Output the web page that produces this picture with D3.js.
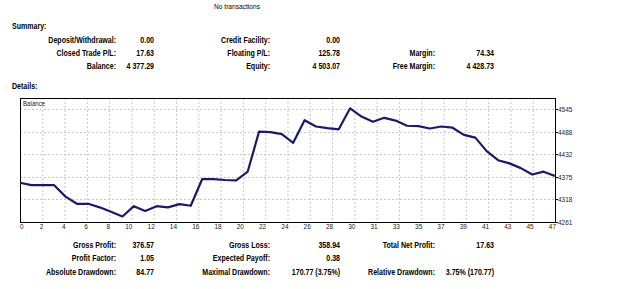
<!DOCTYPE html>
<html>
<head>
<meta charset="utf-8">
<script src="https://cdn.jsdelivr.net/npm/d3@7"></script>
<style>
  html, body { margin: 0; padding: 0; background: #ffffff; }
  svg { display: block; }
</style>
</head>
<body>
<svg id="chart" width="625" height="289"></svg>
<script>
// ---------- data ----------
const tradeIndex = d3.range(0, 48);
const balance = [
  4360, 4354, 4354, 4354, 4325, 4307, 4307, 4298, 4287, 4275,
  4301, 4289, 4301, 4298, 4306, 4302, 4369, 4369, 4367, 4366,
  4388, 4489, 4488, 4483, 4461, 4518, 4502, 4498, 4495, 4548,
  4527, 4514, 4524, 4517, 4504, 4503, 4497, 4502, 4499, 4481,
  4474, 4440, 4417, 4409, 4397, 4381, 4388, 4377
];
const xTickLabels = ["0","2","4","6","8","10","12","14","16","18","20","22","24","26","28","30","31","33","35","37","39","41","43","45","47"];
const yTickValues = [4261, 4318, 4375, 4432, 4488, 4545];
const yDomain = [4261, 4574];

const headerText = "No transactions";
const summaryTitle = "Summary:";
const detailsTitle = "Details:";
const summaryLabels = [
  ["Deposit/Withdrawal:", "Credit Facility:", ""],
  ["Closed Trade P/L:", "Floating P/L:", "Margin:"],
  ["Balance:", "Equity:", "Free Margin:"]
];
const summaryValues = [
  ["0.00", "0.00", ""],
  ["17.63", "125.78", "74.34"],
  ["4 377.29", "4 503.07", "4 428.73"]
];
const detailLabels = [
  ["Gross Profit:", "Gross Loss:", "Total Net Profit:"],
  ["Profit Factor:", "Expected Payoff:", ""],
  ["Absolute Drawdown:", "Maximal Drawdown:", "Relative Drawdown:"]
];
const detailValues = [
  ["376.57", "358.94", "17.63"],
  ["1.05", "0.38", ""],
  ["84.77", "170.77 (3.75%)", "3.75% (170.77)"]
];

// ---------- layout ----------
const svg = d3.select("#chart");
const FONT = "'Liberation Sans', Arial, sans-serif";
const SX = 0.83;          // horizontal compression of text
const plot = { left: 20, right: 555, top: 98, bottom: 222 };
const labelRight = [116, 270, 435];
const valueRight = [154, 340, 494];
const summaryBase = [42.8, 55.8, 68.6];
const detailBase = [248.2, 261.4, 274.6];

function txt(g, x, y, s, opts) {
  const o = Object.assign({ size: 8.5, weight: "bold", anchor: "end", sx: SX, color: "#000" }, opts || {});
  g.append("text")
    .attr("transform", `translate(${x},${y}) scale(${o.sx},1)`)
    .attr("text-anchor", o.anchor)
    .attr("font-family", FONT)
    .attr("font-size", o.size)
    .attr("font-weight", o.weight)
    .attr("fill", o.color)
    .text(s);
}

const tg = svg.append("g");
txt(tg, 237, 8.5, headerText, { size: 7.8, anchor: "middle", weight: "normal", sx: 0.85 });
txt(tg, 12, 28.5, summaryTitle, { anchor: "start" });
txt(tg, 12, 89, detailsTitle, { anchor: "start" });

summaryLabels.forEach((row, r) => row.forEach((s, c) => {
  if (s) txt(tg, labelRight[c], summaryBase[r], s);
  if (summaryValues[r][c]) txt(tg, valueRight[c], summaryBase[r], summaryValues[r][c]);
}));
detailLabels.forEach((row, r) => row.forEach((s, c) => {
  if (s) txt(tg, labelRight[c], detailBase[r], s);
  if (detailValues[r][c]) txt(tg, valueRight[c], detailBase[r], detailValues[r][c]);
}));

// ---------- chart ----------
const x = d3.scaleLinear().domain([0, tradeIndex.length - 1]).range([plot.left, plot.right]);
const xSlot = d3.scalePoint().domain(xTickLabels).range([plot.left, plot.right]);
const y = d3.scaleLinear().domain(yDomain).range([plot.bottom, plot.top]);

const cg = svg.append("g");
// grid
cg.selectAll("line.vg").data(xTickLabels.slice(1, -1)).join("line")
  .attr("x1", d => xSlot(d) + 0.5).attr("x2", d => xSlot(d) + 0.5)
  .attr("y1", plot.top).attr("y2", plot.bottom)
  .attr("stroke", "#c8c8c8").attr("stroke-dasharray", "2,2").attr("stroke-width", 1);
cg.selectAll("line.hg").data(yTickValues.slice(1)).join("line")
  .attr("y1", d => Math.round(y(d)) + 0.5).attr("y2", d => Math.round(y(d)) + 0.5)
  .attr("x1", plot.left).attr("x2", plot.right)
  .attr("stroke", "#c8c8c8").attr("stroke-dasharray", "2,2").attr("stroke-width", 1);

// frame
cg.append("rect")
  .attr("x", plot.left + 0.5).attr("y", plot.top + 0.5)
  .attr("width", plot.right - plot.left).attr("height", plot.bottom - plot.top)
  .attr("fill", "none").attr("stroke", "#000").attr("stroke-width", 1);

// series label
txt(cg, plot.left + 3, plot.top + 8, "Balance", { size: 6.5, anchor: "start", weight: "normal", sx: 0.95, color: "#222" });

// line
const line = d3.line().x((d, i) => x(tradeIndex[i])).y(d => y(d));
cg.append("path").datum(balance)
  .attr("d", line)
  .attr("fill", "none").attr("stroke", "#1a1a6a").attr("stroke-width", 2.2)
  .attr("stroke-linejoin", "round");

// x tick labels (right aligned at the grid line, first one left aligned)
xTickLabels.forEach((s, i) => {
  txt(cg, xSlot(s) + (i === 0 ? 0 : 1), plot.bottom + 7, s,
      { size: 6.8, anchor: i === 0 ? "start" : "end", weight: "normal", sx: 0.95, color: "#222" });
});

// y ticks on the right
yTickValues.forEach(v => {
  const yy = Math.round(y(v)) + 0.5;
  cg.append("line").attr("x1", plot.right).attr("x2", plot.right + 3)
    .attr("y1", yy).attr("y2", yy).attr("stroke", "#000");
  txt(cg, plot.right + 3, yy + 2.3, String(v), { size: 6.8, anchor: "start", weight: "normal", sx: 0.95, color: "#222" });
});
</script>
</body>
</html>
